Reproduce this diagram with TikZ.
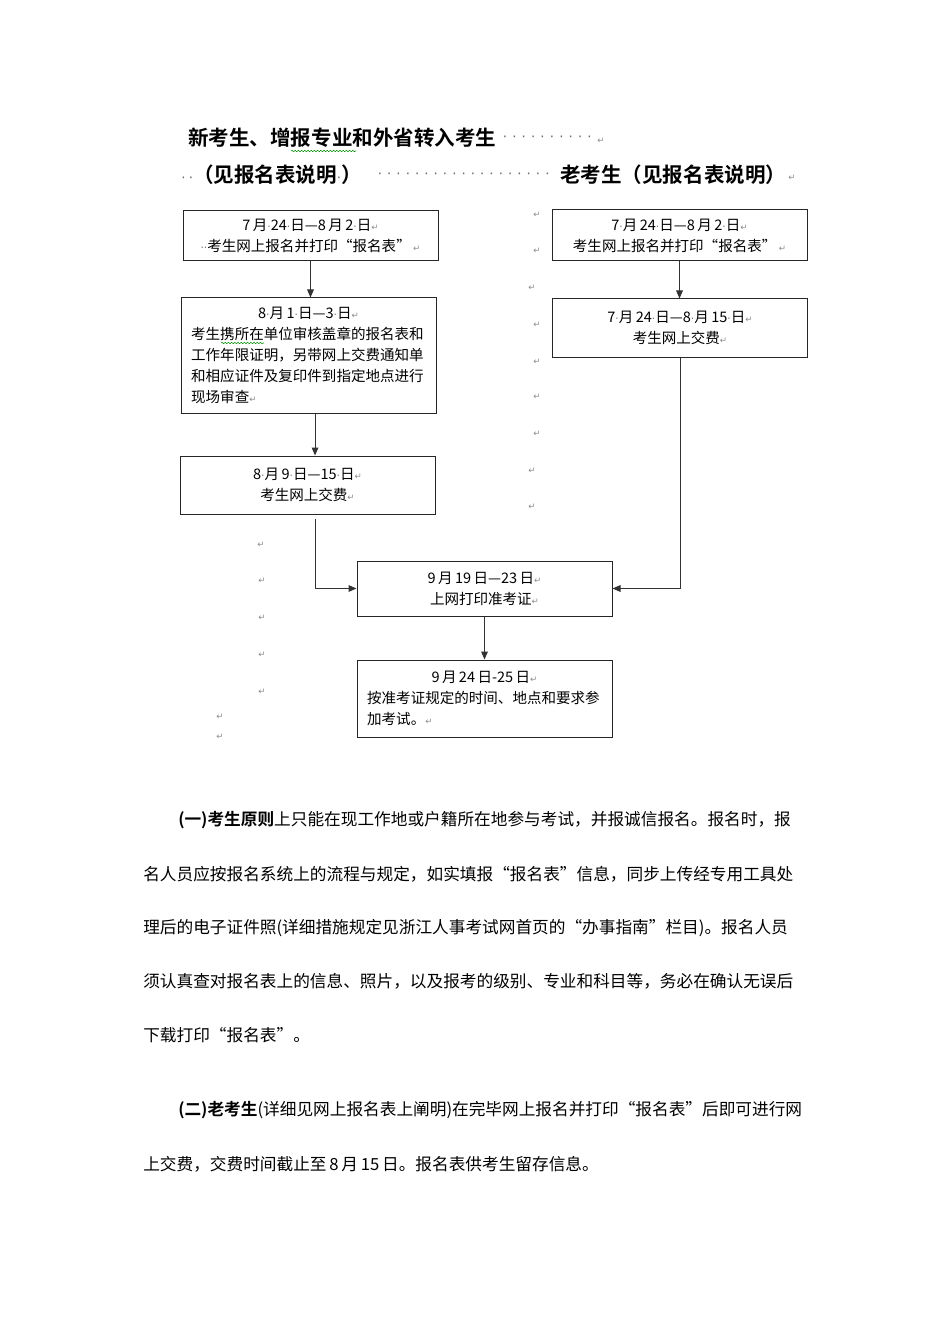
\documentclass[tikz,border=0pt]{standalone}
\usepackage{fontspec}
\usetikzlibrary{arrows.meta,decorations.pathmorphing}
\setmainfont{Noto Sans CJK SC}[BoldFont={Noto Sans CJK SC Bold}]
\newfontfamily\retfont{DejaVu Sans}
\XeTeXlinebreaklocale "zh"
\XeTeXlinebreakskip=0pt
\newcommand{\boxfont}{\fontsize{10.9}{15.75}\selectfont}
\newcommand{\headfont}{\fontsize{15.4}{18}\selectfont\bfseries}
\newcommand{\parafont}{\fontsize{12.5}{15}\selectfont}
\newcommand{\spc}{{\retfont\mdseries\fontsize{8}{8}\selectfont\textcolor{black!55}{·}}}
\newcommand{\hspc}{{\retfont\mdseries\fontsize{10}{10}\selectfont\textcolor{black!60}{·}}}
\newcommand{\ret}{{\retfont\mdseries\fontsize{6.5}{6.5}\selectfont\textcolor{black!45}{↵}}}
\newcommand{\jline}[2]{\hbox to #1{\XeTeXlinebreakskip=0pt plus 2pt\relax #2}}
\newcommand{\dateline}[1]{\makebox[176pt]{#1}}
\begin{document}
\begin{tikzpicture}[x=0.75pt,y=-0.75pt,
  stepbox/.style={draw=black!85,line width=0.75pt,inner sep=0pt,minimum width=191.25pt,text width=176pt,align=center,font=\boxfont},
  link/.style={draw=black!80,line width=0.75pt,-{Triangle[length=6pt,width=5pt]}},
  retmark/.style={inner sep=0pt,font=\retfont\fontsize{6.5}{6.5}\selectfont,text=black!45},
  dotmark/.style={inner sep=0pt,font=\retfont\fontsize{10}{10}\selectfont,text=black!60},
  head/.style={inner sep=0pt,anchor=west,font=\headfont},
  para/.style={inner sep=0pt,anchor=west,font=\parafont},
  squiggle/.style={draw=green!55!black,line width=0.4pt,decorate,decoration={snake,amplitude=0.5pt,segment length=2.4pt}}]
\fill[white] (0,0) rectangle (950,1344);
\useasboundingbox (0,0) rectangle (950,1344);
% headings
\node (h1) at (188,138) [head] {新考生、增报专业和外省转入考生};
\foreach \i in {0,...,9} \node (hd\i) at (505+\i*9.4,139) [dotmark] {·};
\node (hr1) at (601,141) [retmark] {↵};
\node (h2) at (181,175) [head] {\hspc{}\,\hspc{}（见报名表说明\hspc{}）};
\foreach \i in {0,...,18} \node (hl\i) at (380+\i*9.3,176) [dotmark] {·};
\node (h3) at (560,175) [head] {老考生（见报名表说明）};
\node (hr2) at (792,178) [retmark] {↵};
\draw[squiggle] (291,151) -- (356,151);
% new candidates
\node (new1) at (310.5,236) [stepbox,minimum height=37.5pt] {7\,月\spc{}24\spc{}日—8\,月\,2\spc{}日\ret{}\\\spc{}\spc{}考生网上报名并打印“报名表”\,\ret{}};
\node (new2) at (308.5,355.5) [stepbox,minimum height=86.25pt,align=left] {\dateline{8\spc{}月\,1\spc{}日—3\spc{}日\ret{}}\\考生携所在单位审核盖章的报名表和\\工作年限证明，另带网上交费通知单\\和相应证件及复印件到指定地点进行\\现场审查\ret{}};
\draw[squiggle] (221,343) -- (264,343);
\node (new3) at (307.5,485) [stepbox,minimum height=43.5pt] {8\spc{}月\,9\spc{}日—15\spc{}日\ret{}\\考生网上交费\ret{}};
% old candidates
\node (old1) at (679.5,235.5) [stepbox,minimum height=38.25pt] {7\spc{}月\,24\spc{}日—8\,月\,2\spc{}日\ret{}\\考生网上报名并打印“报名表”\,\ret{}};
\node (old2) at (680,328) [stepbox,minimum height=43.5pt] {7\spc{}月\,24\spc{}日—8\spc{}月\,15\spc{}日\ret{}\\考生网上交费\ret{}};
% common steps
\node (ticket) at (484.5,588.5) [stepbox,minimum height=41.25pt] {9\,月\,19\,日—23\,日\ret{}\\上网打印准考证\ret{}};
\node (exam) at (484.5,698.5) [stepbox,minimum height=57.75pt,align=left] {\dateline{9\,月\,24\,日-25\,日\ret{}}\\按准考证规定的时间、地点和要求参\\加考试。\ret{}};
% connectors
\coordinate (newout) at (315,519);
\draw[link] (new1.south) -- (new1.south |- new2.north);
\draw[link] ([xshift=4.9pt]new2.south) -- ([xshift=4.9pt]new2.south |- new3.north);
\draw[link] (newout) |- (ticket.west);
\draw[link] (old1.south) -- (old1.south |- old2.north);
\draw[link] (old2.south) |- (ticket.east);
\draw[link] (ticket.south) -- (exam.north);
% paragraph marks
\foreach \x/\y [count=\i] in {537/215,537/251,532/288,537/325,537/362,537/397,537/434,532/471,532/507}
  \node (rr\i) at (\x,\y) [retmark] {↵};
\foreach \x/\y [count=\i] in {261/545,262/581,262/618,262/655,262/692,220/717,220/737}
  \node (rl\i) at (\x,\y) [retmark] {↵};
% notes
\node (p1) at (178,820) [para] {\jline{464pt}{{\bfseries (一)考生原则}上只能在现工作地或户籍所在地参与考试，并报诚信报名。报名时，报}};
\node (p2) at (143,874) [para] {\jline{490.5pt}{名人员应按报名系统上的流程与规定，如实填报“报名表”信息，同步上传经专用工具处}};
\node (p3) at (143,928) [para] {\jline{487.5pt}{理后的电子证件照(详细措施规定见浙江人事考试网首页的“办事指南”栏目)。报名人员}};
\node (p4) at (143,981) [para] {\jline{490.5pt}{须认真查对报名表上的信息、照片，以及报考的级别、专业和科目等，务必在确认无误后}};
\node (p5) at (143,1035) [para] {下载打印“报名表”。};
\node (p6) at (178,1110) [para] {\jline{471pt}{{\bfseries (二)老考生}(详细见网上报名表上阐明)在完毕网上报名并打印“报名表”后即可进行网}};
\node (p7) at (143,1164) [para] {上交费，交费时间截止至\,8\,月\,15\,日。报名表供考生留存信息。};
\end{tikzpicture}
\end{document}
